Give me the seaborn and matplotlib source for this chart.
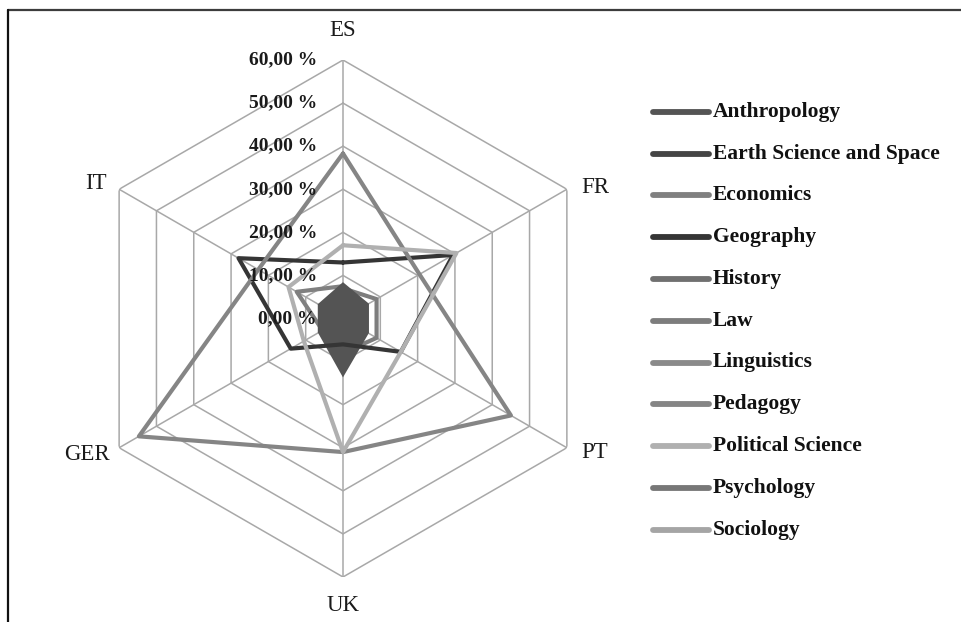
import numpy as np
import pandas as pd
import matplotlib
matplotlib.use("Agg")
import matplotlib.pyplot as plt
from matplotlib.lines import Line2D
import seaborn as sns

# Share of publications per discipline and country (%)
countries = ["ES", "FR", "PT", "UK", "GER", "IT"]
disciplines = ["Anthropology", "Earth Science and Space", "Economics", "Geography",
               "History", "Law", "Linguistics", "Pedagogy", "Political Science",
               "Psychology", "Sociology"]

anthropology = [7.8, 6.4, 6.4, 12.7, 6.2, 6.2]
earth_science = [5.5, 5.0, 5.0, 9.5, 4.5, 4.5]
economics = [7.5, 6.0, 6.0, 10.0, 5.5, 12.4]
geography = [13.0, 29.5, 15.5, 6.0, 14.0, 28.0]
history = [4.0, 3.5, 3.5, 7.0, 3.0, 3.0]
law = [7.0, 9.0, 9.0, 8.0, 5.0, 5.0]
linguistics = [3.0, 2.5, 2.5, 5.0, 2.0, 2.0]
pedagogy = [38.3, 20.5, 45.0, 31.0, 54.7, 22.7]
political_science = [17.0, 30.4, 15.5, 31.0, 10.5, 14.6]
psychology = [6.0, 5.5, 5.5, 11.0, 5.0, 5.0]
sociology = [2.0, 2.0, 2.0, 4.0, 1.5, 1.5]

levels = [0, 10, 20, 30, 40, 50, 60]

series = {
    "Anthropology": anthropology,
    "Earth Science and Space": earth_science,
    "Economics": economics,
    "Geography": geography,
    "History": history,
    "Law": law,
    "Linguistics": linguistics,
    "Pedagogy": pedagogy,
    "Political Science": political_science,
    "Psychology": psychology,
    "Sociology": sociology,
}

colors = {
    "Anthropology": "#545454",
    "Earth Science and Space": "#454545",
    "Economics": "#808080",
    "Geography": "#353535",
    "History": "#707070",
    "Law": "#7d7d7d",
    "Linguistics": "#8a8a8a",
    "Pedagogy": "#858585",
    "Political Science": "#b0b0b0",
    "Psychology": "#777777",
    "Sociology": "#a5a5a5",
}

# angles: clockwise from the top
theta = np.deg2rad(np.arange(0, 360, 60))
theta_closed = np.append(theta, theta[0])

rows = []
for name, vals in series.items():
    closed = list(vals) + [vals[0]]
    for i, (t, v) in enumerate(zip(theta_closed, closed)):
        rows.append({"discipline": name, "theta": t, "value": v, "step": i})
df = pd.DataFrame(rows)

sns.set_theme(style="white")
plt.rcParams["font.family"] = ["Liberation Serif", "DejaVu Serif"]

W, H = 962, 622
fig = plt.figure(figsize=(W / 100, H / 100), dpi=100)
fig.patch.set_facecolor("white")

cx, cy, R = 343, 318.5, 258.5
ax = fig.add_axes([(cx - R) / W, 1 - (cy + R) / H, 2 * R / W, 2 * R / H],
                  projection="polar")
ax.set_theta_offset(np.pi / 2)
ax.set_theta_direction(-1)
ax.grid(False)
ax.spines["polar"].set_visible(False)
ax.patch.set_alpha(0)

# hexagonal grid and spokes
grid_color = "#a8a8a8"
for lv in levels[1:]:
    ax.plot(theta_closed, [lv] * len(theta_closed), color=grid_color, lw=1.1, zorder=1)
for t in theta:
    ax.plot([t, t], [0, levels[-1]], color=grid_color, lw=1.1, zorder=1)

under = ["Earth Science and Space", "Economics", "History", "Law", "Linguistics",
         "Psychology", "Sociology"]
over = ["Geography", "Pedagogy", "Political Science"]

sns.lineplot(data=df[df["discipline"].isin(under)], x="theta", y="value",
             hue="discipline", hue_order=under, palette=colors, sort=False,
             estimator=None, lw=3.0, legend=False, ax=ax)

ax.fill(theta_closed, anthropology + [anthropology[0]],
        color=colors["Anthropology"], lw=3.0, zorder=2)

sns.lineplot(data=df[df["discipline"].isin(over)], x="theta", y="value",
             hue="discipline", hue_order=over, palette=colors, sort=False,
             estimator=None, lw=3.0, legend=False, ax=ax)

ax.set_ylim(0, levels[-1])
ax.set_xticks([])
ax.set_yticks([])
ax.set_xlabel("")
ax.set_ylabel("")

# radial value labels along the top spoke
for lv in levels:
    label = f"{lv:.2f}".replace(".", ",") + " %"
    ax.annotate(label, xy=(0, lv), xytext=(-26 * 0.72, 0), textcoords="offset points",
                ha="right", va="center", fontsize=14, fontweight="bold",
                color="#1a1a1a", annotation_clip=False)

# country labels
offsets = {
    "ES": (0, 30, "center"),
    "FR": (14, 2, "left"),
    "PT": (14, -5, "left"),
    "UK": (0, -29, "center"),
    "GER": (-9, -7, "right"),
    "IT": (-12, 6, "right"),
}
for t, c in zip(theta, countries):
    dx, dy, ha = offsets[c]
    ax.annotate(c, xy=(t, levels[-1]), xytext=(dx * 0.72, dy * 0.72),
                textcoords="offset points", ha=ha, va="center",
                fontsize=16.5, color="#1a1a1a", annotation_clip=False)

# legend
y0, dy_leg = 111.7, 41.8
for i, name in enumerate(disciplines):
    y = 1 - (y0 + i * dy_leg) / H
    fig.add_artist(Line2D([653 / W, 709 / W], [y, y], transform=fig.transFigure,
                          color=colors[name], lw=4.2, solid_capstyle="round"))
    fig.text(713 / W, y, name, ha="left", va="center", fontsize=15.5,
             fontweight="bold", color="#111111")

# outer frame (top and left edges)
fig.add_artist(Line2D([8 / W, 1], [1 - 10 / H, 1 - 10 / H], transform=fig.transFigure,
                      color="#3c3c3c", lw=1.6))
fig.add_artist(Line2D([8 / W, 8 / W], [0, 1 - 10 / H], transform=fig.transFigure,
                      color="#111111", lw=1.6))

fig.savefig("out.png", dpi=100, facecolor="white")
